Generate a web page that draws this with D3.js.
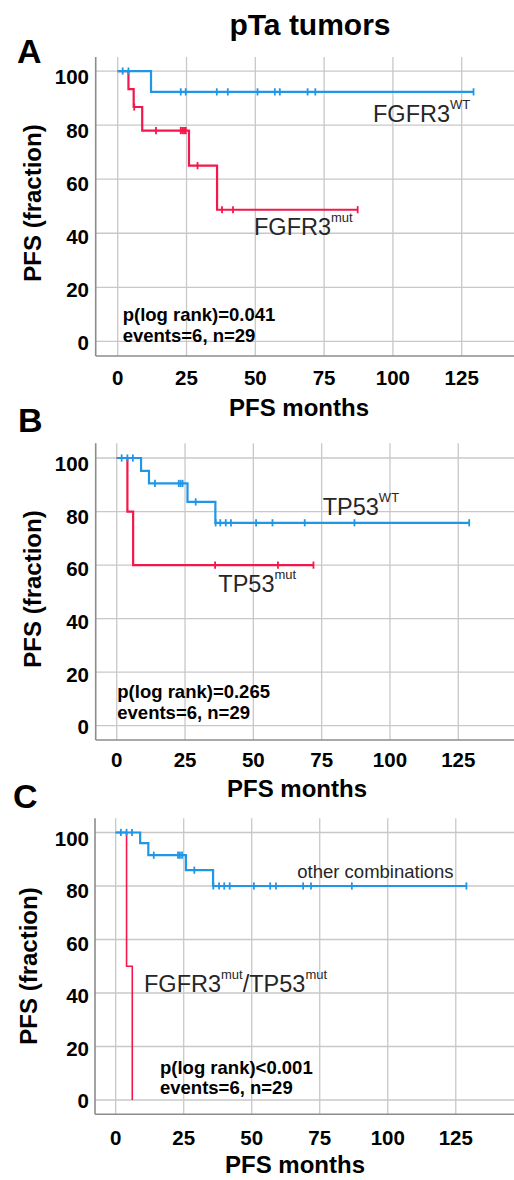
<!DOCTYPE html>
<html>
<head>
<meta charset="utf-8">
<script src="https://d3js.org/d3.v7.min.js"></script>
<style>
  body { margin: 0; background: #fff; }
  svg { display: block; font-family: "Liberation Sans", Arial, sans-serif; }
</style>
</head>
<body>
<div id="chart"></div>
<script>
// axis ticks
var monthTicks = [0, 25, 50, 75, 100, 125];
var pfsTicks = [0, 20, 40, 60, 80, 100];

// panel A: FGFR3
var fgfr3WtTimes = [0, 12.1];
var fgfr3WtSurv = [100, 92.3];
var fgfr3WtCensor = [1.8, 3.9, 22.9, 24.7, 36, 40, 50.8, 57.1, 58.9, 69, 71.8, 129.3];
var fgfr3WtEnd = 129.3;

var fgfr3MutTimes = [0, 3.9, 5.8, 8.9, 25.9, 36.1];
var fgfr3MutSurv = [100, 93.3, 86.7, 78.0, 65.0, 48.7];
var fgfr3MutCensor = [6.0, 13.9, 22.9, 23.5, 24.1, 24.7, 29, 37.9, 41.9, 87.2];
var fgfr3MutEnd = 87.2;

// panel B: TP53
var tp53WtTimes = [0, 8.9, 11.8, 25.9, 36.1];
var tp53WtSurv = [100, 95.2, 90.5, 83.6, 75.8];
var tp53WtCensor = [1.8, 3.9, 5.9, 14, 22.7, 23.4, 24.1, 28.9, 36.2, 37.9, 39.9, 41.8, 51, 57, 68.8, 87, 129];
var tp53WtEnd = 129;

var tp53MutTimes = [0, 3.9, 6.0];
var tp53MutSurv = [100, 80, 60];
var tp53MutCensor = [36, 59, 72];
var tp53MutEnd = 72;

// panel C: combination
var otherTimes = [0, 9.0, 12.0, 25.8, 35.8];
var otherSurv = [100, 96, 91.5, 85.9, 80];
var otherCensor = [1.9, 4.0, 6.0, 14, 22.9, 23.6, 24.4, 28.9, 35.9, 38, 39.9, 41.9, 50.8, 56.8, 58.9, 68.9, 71.8, 86.8, 128.9];
var otherEnd = 128.9;

var doubleMutTimes = [0, 4.0, 6.1];
var doubleMutSurv = [100, 50, 0];
var doubleMutCensor = [];
var doubleMutEnd = 6.1;

var blue = "#2196e6", red = "#f5174b";

var svg = d3.select("#chart").append("svg")
    .attr("width", 514).attr("height", 1180);

svg.append("text")
    .attr("x", 310).attr("y", 35)
    .attr("text-anchor", "middle")
    .style("font-weight", "bold").style("font-size", "30px")
    .text("pTa tumors");

var panels = [
  {
    letter: "A", letterX: 17, letterY: 63,
    left: 95.7, top: 57, bottom: 356, xDom: [-8, 144], yDom: [-5.4, 105.2],
    tickY: 385, titleX: 299, titleY: 416, yTitleX: 40.5, yTitleY: 203,
    pX: 122.7, pY: 321, pText: "p(log rank)=0.041",
    series: [
      { times: fgfr3MutTimes, surv: fgfr3MutSurv, censor: fgfr3MutCensor, end: fgfr3MutEnd, color: red, width: 2.2 },
      { times: fgfr3WtTimes, surv: fgfr3WtSurv, censor: fgfr3WtCensor, end: fgfr3WtEnd, color: blue, width: 2.2 }
    ],
    labels: [
      { x: 373, y: 122.3, parts: [["FGFR3", 0], ["WT", 1]] },
      { x: 254, y: 235, parts: [["FGFR3", 0], ["mut", 1]] }
    ]
  },
  {
    letter: "B", letterX: 18, letterY: 431.7,
    left: 95.7, top: 443.3, bottom: 740, xDom: [-7.7, 145.4], yDom: [-5.35, 105.5],
    tickY: 766.7, titleX: 297, titleY: 797, yTitleX: 40.5, yTitleY: 589,
    pX: 117.3, pY: 698.3, pText: "p(log rank)=0.265",
    series: [
      { times: tp53MutTimes, surv: tp53MutSurv, censor: tp53MutCensor, end: tp53MutEnd, color: red, width: 2.2 },
      { times: tp53WtTimes, surv: tp53WtSurv, censor: tp53WtCensor, end: tp53WtEnd, color: blue, width: 2.2 }
    ],
    labels: [
      { x: 322.7, y: 515, parts: [["TP53", 0], ["WT", 1]] },
      { x: 218.3, y: 591.7, parts: [["TP53", 0], ["mut", 1]] }
    ]
  },
  {
    letter: "C", letterX: 13, letterY: 808,
    left: 95, top: 818.3, bottom: 1114.3, xDom: [-7.6, 146.4], yDom: [-5.35, 105.3],
    tickY: 1145, titleX: 295, titleY: 1173, yTitleX: 36.5, yTitleY: 966,
    pX: 160, pY: 1073.5, pText: "p(log rank)<0.001",
    series: [
      { times: doubleMutTimes, surv: doubleMutSurv, censor: doubleMutCensor, end: doubleMutEnd, color: red, width: 1.6 },
      { times: otherTimes, surv: otherSurv, censor: otherCensor, end: otherEnd, color: blue, width: 2.2 }
    ],
    labels: [
      { x: 297.3, y: 878.3, parts: [["other combinations", 0]], size: "18.5px" },
      { x: 144, y: 991.7, parts: [["FGFR3", 0], ["mut", 1], ["/TP53", 0], ["mut", 1]] }
    ]
  }
];

// survival value at time t from a step curve
function survAt(s, t) {
  var v = s.surv[0];
  for (var i = 0; i < s.times.length; i++) {
    if (s.times[i] <= t) v = s.surv[i];
  }
  return v;
}

panels.forEach(function (p) {
  var x = d3.scaleLinear().domain(p.xDom).range([p.left, 514]);
  var y = d3.scaleLinear().domain(p.yDom).range([p.bottom, p.top]);
  var g = svg.append("g");

  // panel letter
  g.append("text")
      .attr("x", p.letterX).attr("y", p.letterY)
      .style("font-weight", "bold").style("font-size", "34px")
      .text(p.letter);

  // grid
  g.selectAll(".vgrid").data(monthTicks).enter().append("line")
      .attr("x1", function (d) { return x(d); }).attr("x2", function (d) { return x(d); })
      .attr("y1", p.top).attr("y2", p.bottom)
      .attr("stroke", "#c8c8c8").attr("stroke-width", 1.3);
  g.selectAll(".hgrid").data(pfsTicks).enter().append("line")
      .attr("x1", p.left).attr("x2", 514)
      .attr("y1", function (d) { return y(d); }).attr("y2", function (d) { return y(d); })
      .attr("stroke", "#c8c8c8").attr("stroke-width", 1.3);

  // axes lines
  g.append("line").attr("x1", p.left).attr("x2", p.left).attr("y1", p.top).attr("y2", p.bottom)
      .attr("stroke", "#8c8c8c").attr("stroke-width", 1.6);
  g.append("line").attr("x1", p.left).attr("x2", 514).attr("y1", p.bottom).attr("y2", p.bottom)
      .attr("stroke", "#8c8c8c").attr("stroke-width", 1.6);

  // tick labels
  g.selectAll(".xlab").data(monthTicks).enter().append("text")
      .attr("x", function (d) { return x(d); }).attr("y", p.tickY)
      .attr("text-anchor", "middle")
      .style("font-weight", "bold").style("font-size", "20.5px")
      .text(function (d) { return d; });
  g.selectAll(".ylab").data(pfsTicks).enter().append("text")
      .attr("x", 89).attr("y", function (d) { return y(d) + 8.4 + d * 0.05; })
      .attr("text-anchor", "end")
      .style("font-weight", "bold").style("font-size", "20.5px")
      .text(function (d) { return d; });

  // axis titles
  g.append("text")
      .attr("x", p.titleX).attr("y", p.titleY)
      .attr("text-anchor", "middle")
      .style("font-weight", "bold").style("font-size", "24px")
      .text("PFS months");
  g.append("text")
      .attr("transform", "translate(" + p.yTitleX + "," + p.yTitleY + ") rotate(-90)")
      .attr("text-anchor", "middle")
      .style("font-weight", "bold").style("font-size", "24px")
      .text("PFS (fraction)");

  // p-value note
  g.append("text").attr("x", p.pX).attr("y", p.pY)
      .style("font-weight", "bold").style("font-size", "18.5px").text(p.pText);
  g.append("text").attr("x", p.pX).attr("y", p.pY + 20.5)
      .style("font-weight", "bold").style("font-size", "18.5px").text("events=6, n=29");

  // curves
  var line = d3.line()
      .x(function (d) { return x(d[0]); })
      .y(function (d) { return y(d[1]); })
      .curve(d3.curveStepAfter);

  p.series.forEach(function (s) {
    var pts = s.times.map(function (t, i) { return [t, s.surv[i]]; });
    pts.push([s.end, s.surv[s.surv.length - 1]]);
    g.append("path").datum(pts)
        .attr("d", line)
        .attr("fill", "none").attr("stroke", s.color).attr("stroke-width", s.width);
    g.selectAll(null).data(s.censor).enter().append("line")
        .attr("x1", function (d) { return x(d); }).attr("x2", function (d) { return x(d); })
        .attr("y1", function (d) { return y(survAt(s, d)) - 3.6; })
        .attr("y2", function (d) { return y(survAt(s, d)) + 3.6; })
        .attr("stroke", s.color).attr("stroke-width", 1.8);
  });

  // curve labels
  p.labels.forEach(function (l) {
    var t = g.append("text").attr("x", l.x).attr("y", l.y)
        .attr("fill", "#262626");
    var up = false;
    l.parts.forEach(function (part) {
      var ts = t.append("tspan").text(part[0]);
      if (part[1]) {
        ts.attr("dy", -13).style("font-size", "13px");
        up = true;
      } else {
        ts.style("font-size", l.size || "23.5px");
        if (up) { ts.attr("dy", 13); up = false; }
      }
    });
  });
});
</script>
</body>
</html>
